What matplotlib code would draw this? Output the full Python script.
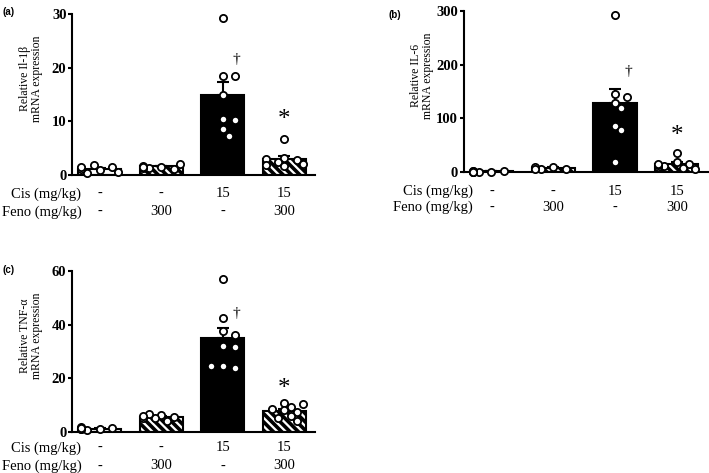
import numpy as np
import matplotlib
matplotlib.use("Agg")
import matplotlib.pyplot as plt

# group labels under the x axis
cis_labels = ["-", "-", "15", "15"]
feno_labels = ["-", "300", "-", "300"]

# (a) Il-1b
il1b_mean = [1.1, 1.6, 14.9, 3.0]
il1b_sem = [0.2, 0.1, 2.4, 0.6]
il1b_points = [
    [1.0, 1.5, 0.4, 1.3, 1.8, 0.6, 1.2, 1.5],
    [1.5, 1.2, 1.4, 1.3, 1.6, 2.0, 1.5],
    [29.3, 18.5, 18.5, 15.0, 10.5, 10.3, 8.5, 7.3],
    [6.7, 3.1, 2.8, 2.4, 1.7, 2.0, 3.0, 1.8],
]

# (b) IL-6
il6_mean = [1.5, 8.0, 129.0, 16.0]
il6_sem = [0.4, 1.0, 25.0, 3.0]
il6_points = [
    [1.0, 2.0, 0.5, 1.5, 0.8, 2.2, 1.2, 0.6],
    [9.0, 5.0, 6.0, 7.0, 10.0, 6.5],
    [293, 146, 140, 128, 120, 85, 78, 19],
    [35, 18, 15, 12, 10, 14, 8, 16, 6],
]

# (c) TNF-a
tnf_mean = [1.2, 5.5, 35.0, 7.7]
tnf_sem = [0.2, 0.4, 3.7, 0.9]
tnf_points = [
    [1.0, 1.4, 0.8, 1.2, 1.8, 1.1, 1.5],
    [6.4, 4.2, 5.0, 5.5, 6.6, 5.2, 6.0],
    [57.0, 42.5, 37.5, 36.3, 32.0, 31.5, 24.6, 24.0, 24.5],
    [10.7, 9.3, 8.0, 8.5, 7.5, 10.5, 6.0, 5.0, 4.0],
]

plt.rcParams["hatch.linewidth"] = 2.6
SERIF = "Liberation Serif"


def swarm_offsets(ax, x0, values, diam_px=7.0, step=0.1):
    # put points side by side when they would overlap (simple beeswarm)
    placed = []
    offs = []
    for v in values:
        cands = [0.0]
        for k in range(1, 4):
            cands += [k * step, -k * step]
        chosen = cands[-1]
        for c in cands:
            px, py = ax.transData.transform((x0 + c, v))
            ok = all(np.hypot(px - qx, py - qy) >= diam_px for qx, qy in placed)
            if ok:
                chosen = c
                break
        placed.append(tuple(ax.transData.transform((x0 + chosen, v))))
        offs.append(chosen)
    return offs


def draw_panel(ax, means, sems, points, ymax, ylabel, dagger_y, star_y,
               row_dy):
    x = np.arange(4)
    faces = ["white", "white", "black", "white"]
    hatches = [None, r"\\\\", None, r"\\\\"]
    ax.set_xlim(-0.45, 3.5)
    ax.set_ylim(0, ymax)
    for i in range(4):
        ax.bar(x[i], means[i], width=0.7, color=faces[i], edgecolor="black",
               linewidth=1.5, hatch=hatches[i], zorder=2)
        ax.errorbar(x[i], means[i], yerr=[[0], [sems[i]]], fmt="none",
                    ecolor="black", elinewidth=1.5, capsize=4, capthick=1.5,
                    zorder=3)
    for i in range(4):
        vals = points[i]
        offs = swarm_offsets(ax, x[i], vals)
        ax.plot(x[i] + np.array(offs), vals, "o", ms=5.2, mfc="white",
                mec="black", mew=1.3, clip_on=False, zorder=4)

    ax.text(2.22, dagger_y, "\u2020", ha="center", va="center",
            fontsize=11, family=SERIF)
    ax.text(3.0, star_y, "*", ha="center", va="center", fontsize=18,
            family=SERIF)

    for s in ["top", "right"]:
        ax.spines[s].set_visible(False)
    ax.spines["left"].set_linewidth(1.5)
    ax.spines["bottom"].set_linewidth(1.5)
    ax.set_xticks([])
    ticks = np.linspace(0, ymax, 4)
    ax.set_yticks(ticks)
    ax.set_yticklabels([f"{int(t)}" for t in ticks],
                       fontsize=10.5, family=SERIF, fontweight="bold")
    ax.tick_params(axis="y", length=3, width=1.5, pad=1)
    ax.set_ylabel(ylabel, fontsize=8.5, family=SERIF, linespacing=1.0)
    ax.yaxis.set_label_coords(-0.12, 0.6)

    # rows of treatment labels under the axis
    rows = [("Cis (mg/kg)", cis_labels), ("Feno (mg/kg)", feno_labels)]
    for (title, labels), dy in zip(rows, row_dy):
        ax.annotate(title, xy=(-0.3, 0), xycoords=("data", "axes fraction"),
                    xytext=(0, dy), textcoords="offset points", ha="right",
                    va="center", fontsize=10.5, family=SERIF,
                    annotation_clip=False)
        for i, lab in enumerate(labels):
            ax.annotate(lab, xy=(x[i], 0), xycoords=("data", "axes fraction"),
                        xytext=(0, dy), textcoords="offset points",
                        ha="center", va="center", fontsize=10.5, family=SERIF,
                        annotation_clip=False)


def main():
    fig = plt.figure(figsize=(7.09, 4.73), dpi=100)
    ax_a = fig.add_axes([0.1016, 0.630, 0.343, 0.340])
    ax_b = fig.add_axes([0.654, 0.636, 0.344, 0.341])
    ax_c = fig.add_axes([0.1016, 0.087, 0.343, 0.340])

    draw_panel(ax_a, il1b_mean, il1b_sem, il1b_points, 30,
               "Relative Il-1\u03b2\nmRNA expression", 21.5, 10.2,
               (-13.5, -26.5))
    draw_panel(ax_b, il6_mean, il6_sem, il6_points, 300,
               "Relative IL-6\nmRNA expression", 188, 68,
               (-14, -25.5))
    draw_panel(ax_c, tnf_mean, tnf_sem, tnf_points, 60,
               "Relative TNF-\u03b1\nmRNA expression", 44, 16,
               (-11.5, -24.5))

    for lab, xx, yy in [("(a)", 0.003, 0.985), ("(b)", 0.548, 0.978),
                        ("(c)", 0.003, 0.44)]:
        fig.text(xx, yy, lab, ha="left", va="top", fontsize=7,
                 fontweight="bold", family="Liberation Sans")

    fig.savefig("out.png", dpi=100)


if __name__ == "__main__":
    main()
